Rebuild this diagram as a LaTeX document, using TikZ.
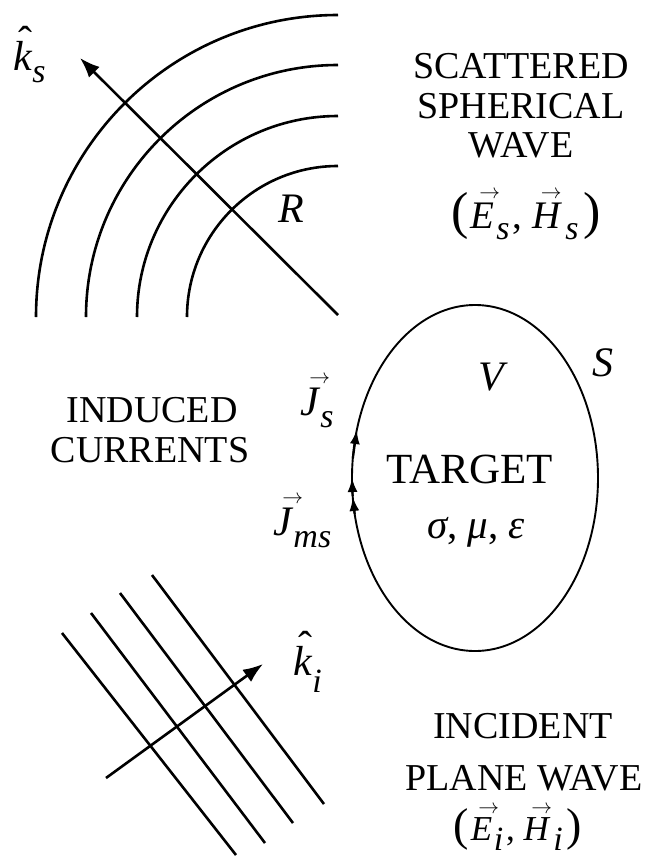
\documentclass[tikz,border=0pt]{standalone}
\usepackage{amsmath}
\usepackage{fontspec}
\setmainfont{Liberation Serif}
\usetikzlibrary{arrows.meta,calc}
% italic letter with a small vector arrow above its right part
\newcommand{\vl}[1]{\leavevmode\rlap{\raisebox{0.76em}{\kern0.22em\fontsize{20}{20}\selectfont$\rightarrow$}}\textit{#1}}
% italic letter with a hat
\newcommand{\hl}[1]{\leavevmode\rlap{\raisebox{0.34em}{\kern0.12em ˆ}}\textit{#1}}
% large lowered subscript
\newcommand{\sbs}[2][-0.3em]{\raisebox{#1}{\fontsize{34}{34}\selectfont\itshape #2}}
\begin{document}
\begin{tikzpicture}[x=1pt,y=1pt,
  wave/.style={line width=2.6pt},
  body/.style={line width=1.9pt},
  arr/.style={line width=2.6pt,-{Latex[length=20pt,width=15pt]}},
  cur/.style={line width=2.2pt,-{Latex[length=14pt,width=10pt]}},
  txt/.style={inner sep=0pt,anchor=base,font=\fontsize{38}{40}\selectfont},
  big/.style={inner sep=0pt,anchor=base,font=\fontsize{43}{46}\selectfont},
  sym/.style={inner sep=0pt,anchor=base west,font=\fontsize{42}{44}\selectfont},
  pr/.style={inner sep=0pt,anchor=base,font=\fontsize{39}{44}\selectfont}]
\useasboundingbox (0,0) rectangle (652,-865);

% scattered spherical wave
\coordinate (O) at (338,-317);
\foreach \r in {151,201,252,302}
  \draw[wave] ($(O)+(-\r,0)$) arc[start angle=180,end angle=90,radius=\r pt];
\coordinate (ksA) at (338,-315);
\coordinate (ksB) at (80,-58);
\draw[arr] (ksA) -- (ksB);
\node[sym] (ks) at (13,-70) {\hl{k}\sbs{s}};
\node[sym] (R) at (278,-222) {\textit{R}};

% target
\coordinate (C) at (475,-478);
\draw[body] (C) ellipse[x radius=123pt,y radius=173pt];
\coordinate (j1a) at ($(C)+(173.5:123pt and 173pt)$);
\coordinate (j1b) at ($(C)+(163.9:123pt and 173pt)$);
\coordinate (j2a) at ($(C)+(186:123pt and 173pt)$);
\coordinate (j2b) at ($(C)+(180:123pt and 173pt)$);
\coordinate (j3a) at ($(C)+(192:123pt and 173pt)$);
\coordinate (j3b) at ($(C)+(186.3:123pt and 173pt)$);
\draw[cur] (j1a) -- (j1b);
\draw[cur] (j2a) -- (j2b);
\draw[cur] (j3a) -- (j3b);
\node[sym] (Js) at (300,-415) {\vl{J}\sbs{s}};
\node[sym] (Jms) at (273,-535) {\vl{J}\sbs{ms}};
\node[sym] (V) at (478,-390) {\textit{V}};
\node[sym] (S) at (592,-376) {\textit{S}};
\node[big] (tg) at (470,-483) {TARGET};
\node[sym,anchor=base,font=\fontsize{41}{44}\selectfont] (mat) at (476,-538) {\textit{σ}, \textit{μ}, \textit{ε}};

% incident plane wave
\coordinate (p1a) at (62,-633);  \coordinate (p1b) at (236,-855);
\coordinate (p2a) at (91,-613);  \coordinate (p2b) at (265,-843);
\coordinate (p3a) at (120,-593); \coordinate (p3b) at (293,-823);
\coordinate (p4a) at (152,-575); \coordinate (p4b) at (324,-804);
\draw[wave] (p1a) -- (p1b);
\draw[wave] (p2a) -- (p2b);
\draw[wave] (p3a) -- (p3b);
\draw[wave] (p4a) -- (p4b);
\coordinate (kiA) at (106,-778);
\coordinate (kiB) at (263,-664);
\draw[arr] (kiA) -- (kiB);
\node[sym] (ki) at (293,-675) {\hl{k}\sbs[-0.42em]{i}};

% text blocks
\node[txt] (sc1) at (521,-78) {SCATTERED};
\node[txt] (sc2) at (521,-118) {SPHERICAL};
\node[txt] (sc3) at (521,-157) {WAVE};
\node[pr] (sc4) at (526,-228) {{\fontsize{52}{52}\selectfont(}\kern0.05em\vl{E}\kern0.05em\sbs{s}\kern0.08em,\kern0.25em\vl{H}\kern0.08em\sbs{s}\kern0.12em{\fontsize{52}{52}\selectfont)}};

\node[txt] (in1) at (152,-422) {INDUCED};
\node[txt] (in2) at (150,-462) {CURRENTS};

\node[txt] (ic1) at (523,-738) {INCIDENT};
\node[txt] (ic2) at (524,-790) {PLANE WAVE};
\node[pr,font=\fontsize{35}{40}\selectfont] (ic3) at (518,-840) {{\fontsize{46}{46}\selectfont(}\kern0.05em\vl{E}\kern0.05em\sbs{i}\kern0.08em,\kern0.25em\vl{H}\kern0.08em\sbs{i}\kern0.12em{\fontsize{46}{46}\selectfont)}};
\end{tikzpicture}
\end{document}
